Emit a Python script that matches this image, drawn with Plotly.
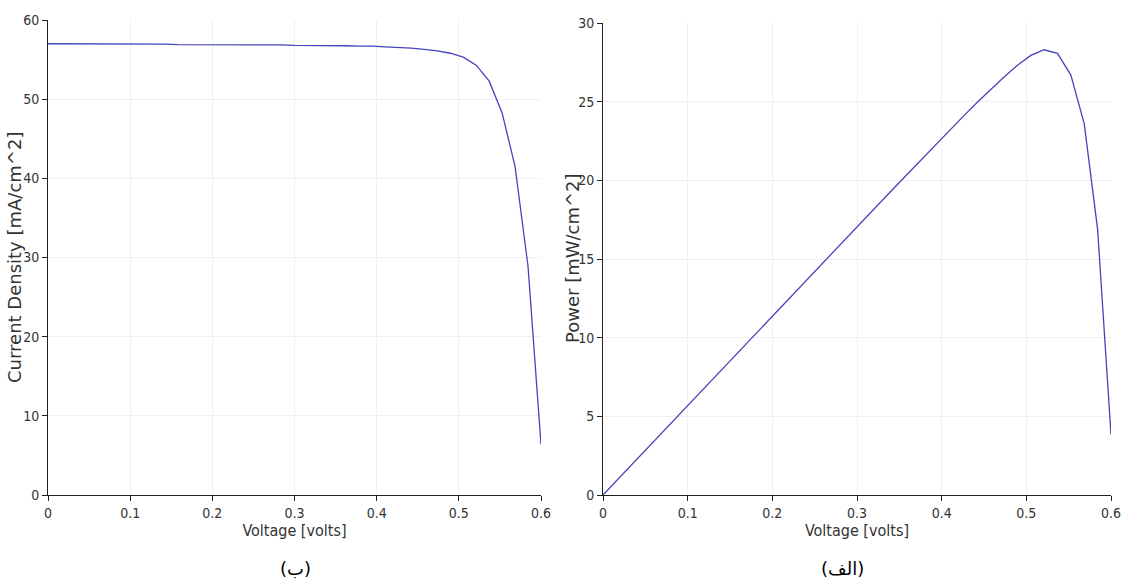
import plotly.graph_objects as go

voltage = [0.0000, 0.0158, 0.0316, 0.0474, 0.0632, 0.0789, 0.0947, 0.1105, 0.1263, 0.1421,
           0.1579, 0.1737, 0.1895, 0.2053, 0.2211, 0.2368, 0.2526, 0.2684, 0.2842, 0.3000,
           0.3158, 0.3316, 0.3474, 0.3632, 0.3789, 0.3947, 0.4105, 0.4263, 0.4421, 0.4579,
           0.4737, 0.4895, 0.5053, 0.5211, 0.5368, 0.5526, 0.5684, 0.5842, 0.6000]

current_density = [57.0, 57.0, 57.0, 57.0, 57.0, 57.0, 56.95, 56.95, 56.95, 56.95,
                   56.9, 56.9, 56.9, 56.9, 56.9, 56.85, 56.85, 56.85, 56.85, 56.8,
                   56.8, 56.8, 56.75, 56.75, 56.7, 56.7, 56.6, 56.55, 56.45, 56.3,
                   56.1, 55.8, 55.3, 54.3, 52.3, 48.3, 41.5, 28.9, 6.4]

power = [0.0, 0.90, 1.80, 2.70, 3.60, 4.50, 5.39, 6.29, 7.19, 8.09,
         8.98, 9.88, 10.78, 11.68, 12.58, 13.46, 14.36, 15.26, 16.16, 17.04,
         17.94, 18.83, 19.72, 20.61, 21.48, 22.38, 23.23, 24.11, 24.96, 25.78,
         26.57, 27.31, 27.94, 28.30, 28.07, 26.69, 23.59, 16.88, 3.84]

x_ticks = [0, 0.1, 0.2, 0.3, 0.4, 0.5, 0.6]
x_tick_labels = ["0", "0.1", "0.2", "0.3", "0.4", "0.5", "0.6"]
j_ticks = [0, 10, 20, 30, 40, 50, 60]
p_ticks = [0, 5, 10, 15, 20, 25, 30]

x_title = "Voltage [volts]"
j_title = "Current Density [mA/cm^2]"
p_title = "Power [mW/cm^2]"
captions = ["(ب)", "(الف)"]

LINE = "#4444bb"
NARROW = "Liberation Sans Narrow, DejaVu Sans Condensed, Arial Narrow, sans-serif"
TICKFONT = dict(family=NARROW, size=14, color="#333")
TITLEFONT_X = dict(family=NARROW, size=16, color="#333")
TITLEFONT_Y = dict(family="DejaVu Sans, Verdana, sans-serif", size=18, color="#333")
CAPFONT = dict(family="DejaVu Sans, sans-serif", size=18, color="#000")

fig = go.Figure()
fig.add_trace(go.Scatter(x=voltage, y=current_density, mode="lines",
                         line=dict(color=LINE, width=1.3), xaxis="x", yaxis="y",
                         showlegend=False))
fig.add_trace(go.Scatter(x=voltage, y=power, mode="lines",
                         line=dict(color=LINE, width=1.3), xaxis="x2", yaxis="y2",
                         showlegend=False))

# body margin is removed in the page, so paper pixels == page pixels
W, H = 1121, 585
def fx(px):
    return px / W
def fy(py):
    return (H - py) / H

common_x = dict(range=[0, 0.6], tickvals=x_ticks, ticktext=x_tick_labels,
                showline=True, linecolor="#222", linewidth=1, ticks="outside",
                ticklen=5, tickcolor="#222", showgrid=True, gridcolor="#f0f0f0",
                zeroline=False, tickfont=TICKFONT, fixedrange=True, automargin=False,
                ticklabeloverflow="allow")
common_y = dict(showline=True, linecolor="#222", linewidth=1, ticks="outside",
                ticklen=5, tickcolor="#222", showgrid=True, gridcolor="#f0f0f0",
                zeroline=False, tickfont=TICKFONT, fixedrange=True, automargin=False,
                ticklabeloverflow="allow")

fig.update_layout(
    width=W, height=H,
    margin=dict(l=0, r=0, t=0, b=0),
    paper_bgcolor="white", plot_bgcolor="white",
    xaxis=dict(common_x, domain=[fx(48), fx(541)], anchor="y",
               title=dict(text=x_title, font=TITLEFONT_X, standoff=2)),
    yaxis=dict(common_y, domain=[fy(495), fy(20)], anchor="x", range=[0, 60],
               tickvals=j_ticks),
    xaxis2=dict(common_x, domain=[fx(603), fx(1111)], anchor="y2",
                title=dict(text=x_title, font=TITLEFONT_X, standoff=2)),
    yaxis2=dict(common_y, domain=[fy(495), fy(23)], anchor="x2", range=[0, 30],
                tickvals=p_ticks),
    annotations=[
        dict(text=j_title, x=fx(14), y=fy(258), xref="paper", yref="paper",
             textangle=-90, showarrow=False, xanchor="center", yanchor="middle",
             font=TITLEFONT_Y),
        dict(text=p_title, x=fx(572), y=fy(258), xref="paper", yref="paper",
             textangle=-90, showarrow=False, xanchor="center", yanchor="middle",
             font=TITLEFONT_Y),
        dict(text=captions[0], x=fx(295), y=fy(568), xref="paper", yref="paper",
             xanchor="center", yanchor="middle", showarrow=False, font=CAPFONT),
        dict(text=captions[1], x=fx(843), y=fy(568), xref="paper", yref="paper",
             xanchor="center", yanchor="middle", showarrow=False, font=CAPFONT),
    ],
)

fig.write_html("out.html", config={"displayModeBar": False},
               post_script="document.body.style.margin='0';document.body.style.overflow='hidden';")
